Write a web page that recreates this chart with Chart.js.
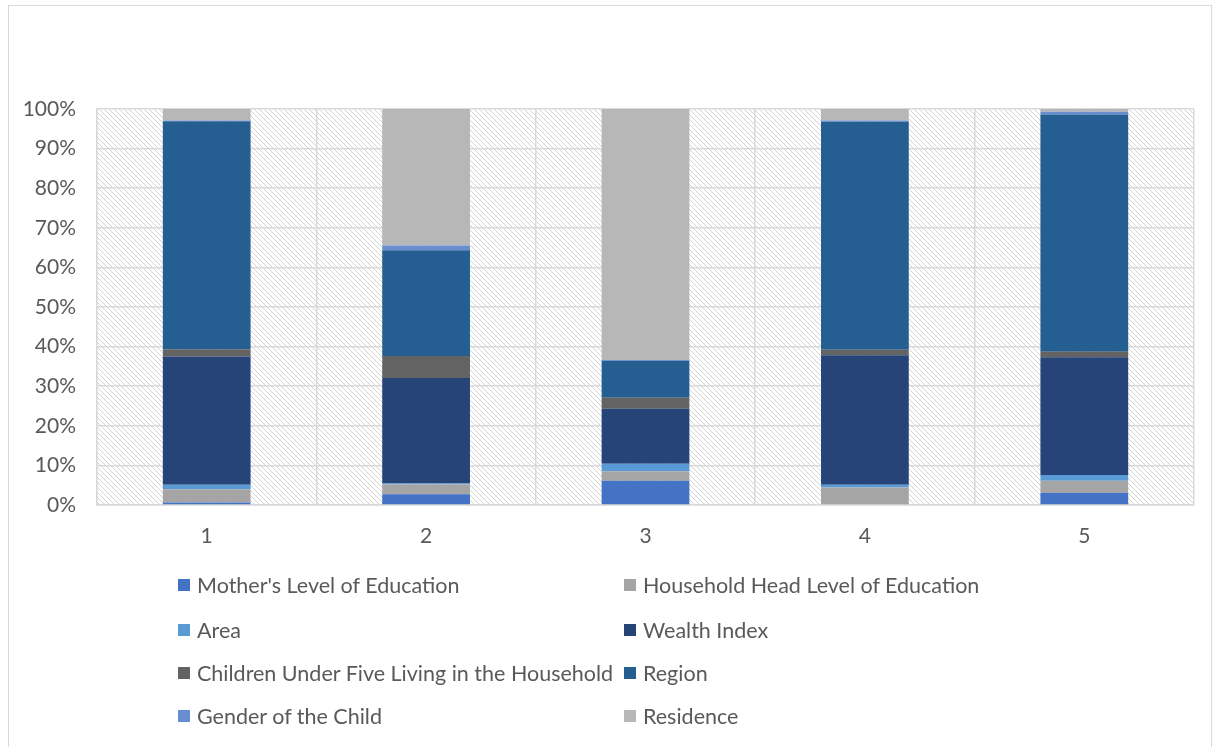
<!DOCTYPE html>
<html>
<head>
<meta charset="utf-8">
<script src="https://cdn.jsdelivr.net/npm/chart.js@4.4.1/dist/chart.umd.min.js"></script>
<style>
    html, body { margin: 0; padding: 0; background: #ffffff; }
    #Frame { position: absolute; left: 8px; top: 5px; width: 1204px; height: 760px; border: 1px solid #d9d9d9; box-sizing: border-box; }
    #Chart_Box { position: absolute; left: 0; top: 0; width: 1219px; height: 747px; }
    .Legend_Item { position: absolute; height: 24px; display: flex; align-items: center; font-family: Lato, "Open Sans", sans-serif; font-size: 21.5px; color: #595959; white-space: nowrap; }
    .Legend_Swatch { width: 12px; height: 12px; margin-right: 7px; }
</style>
</head>
<body>
<div id="Frame"></div>
<div id="Chart_Box"><canvas id="Main_Chart"></canvas></div>
<div id="Legend"></div>
<script>
const Categories = ["1", "2", "3", "4", "5"];

const Mothers_Education = [0.6, 2.7, 6.1, 0.0, 3.1];
const Head_Education = [3.4, 2.5, 2.4, 4.4, 3.0];
const Area = [1.1, 0.2, 1.9, 0.7, 1.5];
const Wealth_Index = [32.4, 26.7, 13.9, 32.7, 29.7];
const Children_Under_Five = [1.8, 5.5, 2.8, 1.4, 1.4];
const Region = [57.6, 26.7, 9.3, 57.6, 59.9];
const Gender_Of_Child = [0.2, 1.2, 0.2, 0.3, 0.7];
const Residence = [2.9, 34.5, 63.4, 2.9, 0.7];

const Series_Names = [
    "Mother's Level of Education",
    "Household Head Level of Education",
    "Area",
    "Wealth Index",
    "Children Under Five Living in the Household",
    "Region",
    "Gender of the Child",
    "Residence"
];
const Series_Values = [Mothers_Education, Head_Education, Area, Wealth_Index, Children_Under_Five, Region, Gender_Of_Child, Residence];
const Series_Colors = ["#4472C4", "#A5A5A5", "#5B9BD5", "#264478", "#636363", "#255E91", "#698ED0", "#B7B7B7"];

const Tick_Font = { family: "Lato, 'Open Sans', sans-serif", size: 21 };
const Grid_Color = "#d9d9d9";

function Make_Hatch() {
    const Tile = document.createElement("canvas");
    Tile.width = 5;
    Tile.height = 5;
    const T = Tile.getContext("2d");
    T.fillStyle = "#ffffff";
    T.fillRect(0, 0, 5, 5);
    T.strokeStyle = "#d4d4d4";
    T.lineWidth = 1;
    T.beginPath();
    T.moveTo(-1, -1); T.lineTo(6, 6);
    T.moveTo(-1, 4); T.lineTo(1, 6);
    T.moveTo(4, -1); T.lineTo(6, 1);
    T.stroke();
    return Tile;
}

const Hatch_Plugin = {
    id: "hatch_background",
    beforeDraw(chart) {
        const A = chart.chartArea;
        const Ctx = chart.ctx;
        Ctx.save();
        Ctx.fillStyle = Ctx.createPattern(Make_Hatch(), "repeat");
        Ctx.fillRect(A.left, A.top, A.right - A.left, A.bottom - A.top);
        Ctx.restore();
    }
};

const Datasets = Series_Names.map(function (Name, i) {
    return {
        label: Name,
        data: Series_Values[i],
        backgroundColor: Series_Colors[i],
        borderWidth: 0,
        barPercentage: 0.4,
        categoryPercentage: 1.0
    };
});

const Chart_Obj = new Chart(document.getElementById("Main_Chart"), {
    type: "bar",
    data: { labels: Categories, datasets: Datasets },
    options: {
        responsive: true,
        maintainAspectRatio: false,
        animation: false,
        layout: { padding: { top: 109, right: 25, left: 0, bottom: 0 } },
        plugins: {
            legend: { display: false },
            tooltip: {
                callbacks: {
                    label: function (ctx) { return " " + ctx.dataset.label + ": " + ctx.raw + "%"; }
                }
            }
        },
        scales: {
            x: {
                stacked: true,
                offset: true,
                grid: { color: Grid_Color, lineWidth: 1.5, drawTicks: false, offset: true },
                border: { color: Grid_Color, width: 1.5 },
                ticks: { color: "#595959", font: Tick_Font, padding: 19 },
                afterFit: function (scale) { scale.height = 242; }
            },
            y: {
                stacked: true,
                min: 0,
                max: 100,
                grid: { color: Grid_Color, lineWidth: 1.5, drawTicks: false },
                border: { color: Grid_Color, width: 1.5 },
                ticks: {
                    stepSize: 10,
                    color: "#595959",
                    font: Tick_Font,
                    padding: 21,
                    callback: function (v) { return v + "%"; }
                },
                afterFit: function (scale) { scale.width = 97; }
            }
        }
    },
    plugins: [Hatch_Plugin]
});

// two-column legend, filled row by row like the original
const Legend_Cols = [178, 624];
const Legend_Rows = [586, 631, 674, 717];
const Legend_Box = document.getElementById("Legend");
Chart_Obj.data.datasets.forEach(function (Ds, i) {
    const Item = document.createElement("div");
    Item.className = "Legend_Item";
    Item.style.left = Legend_Cols[i % 2] + "px";
    Item.style.top = (Legend_Rows[Math.floor(i / 2)] - 13) + "px";
    const Swatch = document.createElement("span");
    Swatch.className = "Legend_Swatch";
    Swatch.style.background = Ds.backgroundColor;
    const Text = document.createElement("span");
    Text.textContent = Ds.label;
    Item.appendChild(Swatch);
    Item.appendChild(Text);
    Legend_Box.appendChild(Item);
});
</script>
</body>
</html>
